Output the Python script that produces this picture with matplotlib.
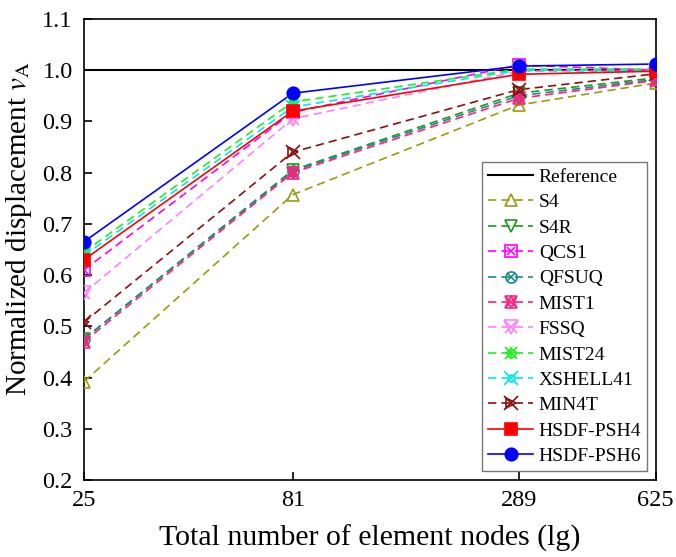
import matplotlib
matplotlib.use("Agg")
import matplotlib.pyplot as plt
from matplotlib.legend_handler import HandlerTuple
from matplotlib.ticker import FixedLocator, NullLocator, FixedFormatter

plt.rcParams['font.family'] = ['Liberation Serif', 'DejaVu Serif']
plt.rcParams['mathtext.fontset'] = 'stix'

nodes = [25, 81, 289, 625]
tick_labels = ['25', '81', '289', '625']
reference = [1.0, 1.0, 1.0, 1.0]

S4 = [0.392, 0.757, 0.932, 0.975]
S4R = [0.475, 0.805, 0.955, 0.985]
QCS1 = [0.610, 0.918, 1.010, 1.000]
QFSUQ = [0.475, 0.803, 0.950, 0.982]
MIST1 = [0.470, 0.800, 0.945, 0.980]
FSSQ = [0.565, 0.905, 0.998, 0.998]
MIST24 = [0.645, 0.938, 1.002, 1.002]
XSHELL41 = [0.638, 0.928, 1.000, 1.000]
MIN4T = [0.508, 0.840, 0.962, 0.993]
PSH4 = [0.630, 0.920, 0.992, 0.998]
PSH6 = [0.665, 0.955, 1.008, 1.012]

series = [
    ('S4', S4, '#9a9a10', '--', [('^', 9)]),
    ('S4R', S4R, '#1a9a1a', '--', [('v', 9)]),
    ('QCS1', QCS1, '#ff00ff', '--', [('s', 8), ('x', 6)]),
    ('QFSUQ', QFSUQ, '#1a8a8a', '--', [('o', 8), ('x', 6)]),
    ('MIST1', MIST1, '#ff2080', '--', [('^', 9), ('v', 9), ('x', 7)]),
    ('FSSQ', FSSQ, '#ff80ff', '--', [('v', 10), ('x', 9)]),
    ('MIST24', MIST24, '#22ee22', '--', [('o', 6), ('x', 9), ('+', 9)]),
    ('XSHELL41', XSHELL41, '#00e8f0', '--', [('x', 10), ('o', 5)]),
    ('MIN4T', MIN4T, '#8b1010', '--', [('x', 10), ('>', 7)]),
    ('HSDF-PSH4', PSH4, '#ff0000', '-', [('s', 8)]),
    ('HSDF-PSH6', PSH6, '#0000ff', '-', [('o', 9)]),
]

fig = plt.figure(figsize=(6.76, 5.57), dpi=100)
ax = fig.add_axes([0.124, 0.138, 0.846, 0.828])

handles = []
labels = []
h, = ax.plot(nodes, reference, color='black', lw=1.5, label='Reference')
handles.append(h)
labels.append('Reference')

for name, vals, col, ls, mks in series:
    filled = name.startswith('HSDF')
    line, = ax.plot(nodes, vals, color=col, ls=ls, lw=1.2,
                    dashes=(5, 3) if ls == '--' else (None, None),
                    zorder=3)
    parts = [line]
    for m, s in mks:
        mh, = ax.plot(nodes, vals, ls='none', marker=m, markersize=s,
                      markerfacecolor=(col if filled else 'none'),
                      markeredgecolor=col, markeredgewidth=1.2, zorder=4)
        parts.append(mh)
    handles.append(tuple(parts))
    labels.append(name)

ax.set_xscale('log')
ax.set_xlim(25, 625)
ax.set_ylim(0.2, 1.1)
ax.xaxis.set_major_locator(FixedLocator(nodes))
ax.xaxis.set_major_formatter(FixedFormatter(tick_labels))
ax.xaxis.set_minor_locator(NullLocator())
ax.set_yticks([0.2, 0.3, 0.4, 0.5, 0.6, 0.7, 0.8, 0.9, 1.0, 1.1])
ax.set_yticklabels(['0.2', '0.3', '0.4', '0.5', '0.6', '0.7', '0.8', '0.9', '1.0', '1.1'])
ax.tick_params(direction='in', length=6, width=1.2, labelsize=17.5, top=False, right=False)
ax.tick_params(axis='x', pad=7)
ax.tick_params(axis='y', pad=8)
for sp in ax.spines.values():
    sp.set_linewidth(1.2)

ax.set_xlabel('Total number of element nodes (lg)', fontsize=21.5, labelpad=10)
ax.set_ylabel(r'Normalized displacement $v_{\mathrm{A}}$', fontsize=21, labelpad=6)
ax.yaxis.set_label_coords(-0.087, 0.545)

leg = ax.legend(handles, labels, handler_map={tuple: HandlerTuple(ndivide=1)},
                loc='lower right', bbox_to_anchor=(0.985, 0.02), fontsize=14,
                frameon=True, fancybox=False, edgecolor='#555555',
                handlelength=2.3, handletextpad=0.3, labelspacing=0.4,
                borderpad=0.3, borderaxespad=0)
leg.get_frame().set_linewidth(1.0)

fig.savefig('out.png', dpi=100)
